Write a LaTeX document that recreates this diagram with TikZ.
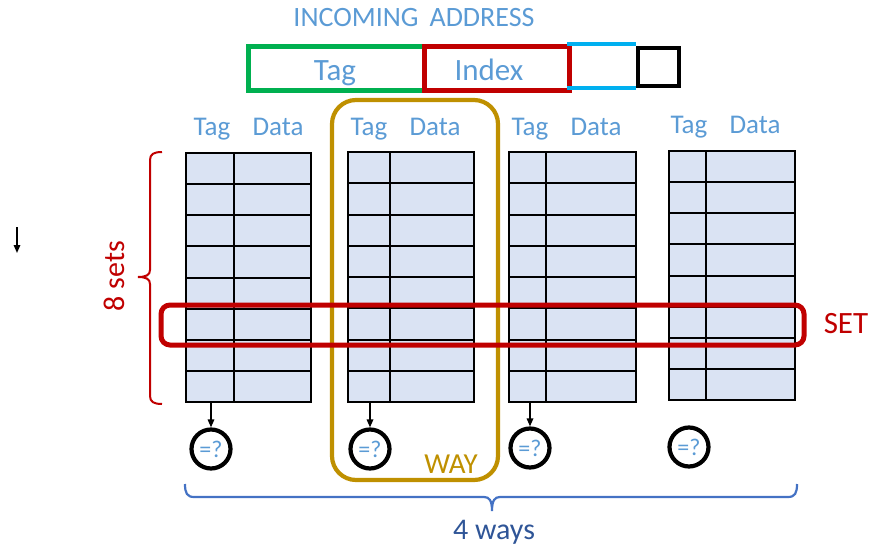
\documentclass[tikz,border=0pt]{standalone}
\usepackage{fontspec}
\setmainfont{Carlito}
\usetikzlibrary{arrows.meta}
\definecolor{lblue}{HTML}{5B9BD5}
\definecolor{cellfill}{HTML}{DAE3F3}
\definecolor{fgreen}{HTML}{00B050}
\definecolor{fred}{HTML}{C00000}
\definecolor{fcyan}{HTML}{00B0F0}
\definecolor{wgold}{HTML}{BF9000}
\definecolor{bblue}{HTML}{4472C4}
\definecolor{dblue}{HTML}{2F5597}
\newcommand{\fs}[1]{\fontsize{#1}{#1}\selectfont}
\begin{document}
\begin{tikzpicture}[x=1pt,y=-1pt,
  hdr/.style={text=lblue, font=\fs{27}, anchor=base, inner sep=0},
  field/.style={line width=4.5, anchor=north west, inner sep=0},
  fieldtext/.style={text=lblue, font=\fs{31}, anchor=base, inner sep=0},
  cmp/.style={circle, draw=black, line width=4.2, minimum size=39, inner sep=0, text=lblue, font=\fs{24}},
  probe/.style={-{Triangle[length=8,width=6.5]}, line width=1.6},
  cell/.style={draw=black, line width=2, fill=cellfill},
  gridline/.style={draw=black, line width=2},
]
\useasboundingbox (0,0) rectangle (871,546);

% ---- incoming address ----
\node[text=lblue, font=\fs{28}, anchor=base] (title) at (414,26) {INCOMING\, ADDRESS};
\node[field, draw=fgreen, minimum width=176, minimum height=44] (tagfield) at (246,44) {};
\node[field, draw=fred, minimum width=145, minimum height=44] (idxfield) at (422,44) {};
\node[fieldtext] (tagtxt) at (335,80) {Tag};
\node[fieldtext] (idxtxt) at (489,80) {Index};
\coordinate (offa) at (567,44);
\coordinate (offb) at (636,44);
\coordinate (offc) at (567,88);
\coordinate (offd) at (636,88);
\draw[fcyan, line width=4.5] (offa) -- (offb) (offc) -- (offd);
\node[draw=black, line width=3.5, minimum width=41, minimum height=38, anchor=north west, inner sep=0] (lowbits) at (636,46) {};

% ---- the four ways ----
% left, tag/data divider, right, top, bottom
\foreach \n/\l/\d/\r/\t/\b in {1/186/234/311/153/402, 2/348/390/474/152/402, 3/509/546/636/152/402, 4/669/706/795/151/400}{
  \path[cell] (\l,\t) rectangle (\r,\b);
  \pgfmathsetmacro{\h}{(\b-\t)/8}
  \foreach \k in {1,...,7}{
    \draw[gridline] (\l,\t+\k*\h) -- (\r,\t+\k*\h);
  }
  \draw[gridline] (\d,\t) -- (\d,\b);
  \node[minimum width=\d-\l, minimum height=\b-\t, inner sep=0, anchor=north west] (tag\n) at (\l,\t) {};
  \node[minimum width=\r-\d, minimum height=\b-\t, inner sep=0, anchor=north west] (data\n) at (\d,\t) {};
}

% column headings
\node[hdr] (th1) at (212,135) {Tag};  \node[hdr] (dh1) at (278,135) {Data};
\node[hdr] (th2) at (369,135) {Tag};  \node[hdr] (dh2) at (435,135) {Data};
\node[hdr] (th3) at (530,135) {Tag};  \node[hdr] (dh3) at (596,135) {Data};
\node[hdr] (th4) at (689,133) {Tag};  \node[hdr] (dh4) at (755,133) {Data};

% comparators
\node[cmp] (cmp1) at (211,449) {=?};
\node[cmp] (cmp2) at (370,449) {=?};
\node[cmp] (cmp3) at (530,448) {=?};
\node[cmp] (cmp4) at (689,447) {=?};
\draw[probe] (tag1.south -| cmp1) -- (cmp1.north);
\draw[probe] (tag2.south -| cmp2) -- (cmp2.north);
\draw[probe] (tag3.south -| cmp3) -- (cmp3.north);

% one way
\draw[wgold, line width=4.2, rounded corners=24] (332,100) rectangle (498,480);
\node[text=wgold, font=\fs{29}, anchor=base] (waylbl) at (451,473) {WAY};

% one set
\draw[fred, line width=5, rounded corners=9] (161,305) rectangle (804,345);
\node[text=fred, font=\fs{31}, anchor=base] (setlbl) at (846,333) {SET};

% sets brace
\draw[fred, line width=2]
  (162,152) .. controls (154,152) and (150,154) .. (150,160) -- (150,270)
  .. controls (150,275) and (146,277) .. (138,277)
  .. controls (146,277) and (150,279) .. (150,284) -- (150,396)
  .. controls (150,402) and (154,404) .. (162,404);
\node[text=fred, font=\fs{30}, rotate=90] (setsl) at (114,276) {8 sets};

% ways brace
\draw[bblue, line width=2.2]
  (185,484) .. controls (185,493) and (187,497) .. (194,497) -- (484,497)
  .. controls (489,497) and (492,500) .. (492,511)
  .. controls (492,500) and (495,497) .. (500,497) -- (788,497)
  .. controls (795,497) and (797,493) .. (797,484);
\node[text=dblue, font=\fs{30}, anchor=base] (waysl) at (494,539) {4 ways};

% small arrow
\coordinate (sa) at (17,227);
\coordinate (sb) at (17,253);
\draw[probe] (sa) -- (sb);
\end{tikzpicture}
\end{document}
